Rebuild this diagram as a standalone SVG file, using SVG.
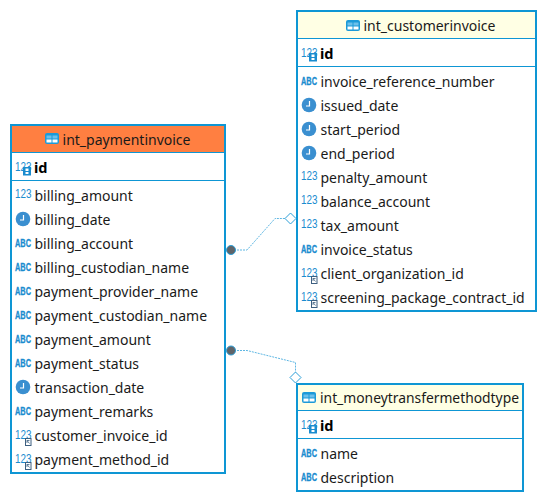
<svg xmlns="http://www.w3.org/2000/svg" width="555" height="502" viewBox="0 0 555 502">
<style>
.box{fill:#fff;stroke:#0e96d4;stroke-width:2}
.div{stroke:#0e96d4;stroke-width:1;fill:none}
text{font-family:"Noto Sans","Open Sans","Liberation Sans",sans-serif;fill:#1a1a1a}
.t{font-size:14px}
.h{font-size:14px;text-anchor:middle}
.pk{font-size:14.5px;font-weight:700;fill:#000}
.n{font-size:12px;fill:#1a8ccf;font-family:"Liberation Sans",sans-serif}
.a{font-size:10px;font-weight:700;fill:#1a8ccf;font-family:"Liberation Sans",sans-serif}
.rel{fill:none;stroke:#5fb7e3;stroke-width:1;stroke-dasharray:2 1}
.dia{fill:#fff;stroke:#2c9fd8;stroke-width:1}
.dot{fill:#5f6469;stroke:#2c9fd8;stroke-width:1}
</style>
<defs>
<g id="tbl"><rect x="0" y="0" width="14" height="11" rx="2" fill="#1c9ad8"/><rect x="1.500" y="2.500" width="5" height="3" fill="#6cc0ea"/><rect x="7.500" y="2.500" width="5" height="3" fill="#6cc0ea"/><rect x="1.500" y="6.500" width="5" height="3" fill="#fff"/><rect x="7.500" y="6.500" width="5" height="3" fill="#fff"/></g>
<g id="num"><text class="n" x="0" y="9" textLength="16.500" lengthAdjust="spacingAndGlyphs">123</text></g>
<g id="abc"><text class="a" x="0" y="8" textLength="16" lengthAdjust="spacingAndGlyphs" stroke="#1a8ccf" stroke-width="0.300">ABC</text></g>
<g id="clk"><circle cx="7" cy="7" r="7.300" fill="#3a8fd0"/><path d="M7.500 3V8H4" fill="none" stroke="#fff" stroke-width="1.200"/></g>
<g id="pk"><use href="#num"/><rect x="8" y="5" width="8" height="8.500" fill="#1a8ccf"/><rect x="10.500" y="6.500" width="3" height="2.500" fill="#fff"/><rect x="10.500" y="10" width="3" height="2" fill="#fff"/></g>
<g id="fk"><use href="#num"/><rect x="10.500" y="8.500" width="5.500" height="7" fill="#fff" stroke="#3d5f80"/><path d="M12 10.500L14.500 13.500M12 13V10.500H14.500" fill="none" stroke="#3d5f80" stroke-width="0.800"/></g>
</defs>

<g id="connectors">
<path class="rel" d="M231 250H247L275 218.500H285"/>
<path class="rel" d="M231 350.500H247L295.500 362.500V372"/>
</g>

<g id="int_paymentinvoice">
<rect class="box" x="11" y="125" width="214" height="348"/>
<rect x="12" y="126" width="212" height="26" fill="#ff7f41"/>
<path class="div" d="M12 152.500H224M12 180.500H224"/>
<use href="#tbl" x="45" y="133"/>
<text class="h" x="126.500" y="145">int_paymentinvoice</text>
<use href="#pk" x="15" y="162"/><text class="pk" x="34" y="173">id</text>
<use href="#num" x="15" y="189"/><text class="t" x="34.500" y="201">billing_amount</text>
<use href="#clk" x="16" y="212"/><text class="t" x="34.500" y="225">billing_date</text>
<use href="#abc" x="15" y="239"/><text class="t" x="34.500" y="249">billing_account</text>
<use href="#abc" x="15" y="263"/><text class="t" x="34.500" y="273">billing_custodian_name</text>
<use href="#abc" x="15" y="287"/><text class="t" x="34.500" y="297">payment_provider_name</text>
<use href="#abc" x="15" y="311"/><text class="t" x="34.500" y="321">payment_custodian_name</text>
<use href="#abc" x="15" y="335"/><text class="t" x="34.500" y="345">payment_amount</text>
<use href="#abc" x="15" y="359"/><text class="t" x="34.500" y="369">payment_status</text>
<use href="#clk" x="16" y="380"/><text class="t" x="34.500" y="393">transaction_date</text>
<use href="#abc" x="15" y="407"/><text class="t" x="34.500" y="417">payment_remarks</text>
<use href="#fk" x="15" y="430"/><text class="t" x="34.500" y="441">customer_invoice_id</text>
<use href="#fk" x="15" y="454"/><text class="t" x="34.500" y="465">payment_method_id</text>
<circle class="dot" cx="231" cy="250" r="4.500"/>
<circle class="dot" cx="231" cy="350.500" r="4.500"/>
</g>

<g id="int_customerinvoice">
<rect class="box" x="297" y="11" width="239" height="300"/>
<rect x="298" y="12" width="237" height="26" fill="#ffffe4"/>
<path class="div" d="M298 38.500H535M298 66.500H535"/>
<use href="#tbl" x="346" y="20"/>
<text class="h" x="429.500" y="31">int_customerinvoice</text>
<use href="#pk" x="301" y="48"/><text class="pk" x="320" y="59">id</text>
<use href="#abc" x="301" y="77"/><text class="t" x="320.500" y="87">invoice_reference_number</text>
<use href="#clk" x="302" y="98"/><text class="t" x="320.500" y="111">issued_date</text>
<use href="#clk" x="302" y="122"/><text class="t" x="320.500" y="135">start_period</text>
<use href="#clk" x="302" y="146"/><text class="t" x="320.500" y="159">end_period</text>
<use href="#num" x="301" y="171"/><text class="t" x="320.500" y="183">penalty_amount</text>
<use href="#num" x="301" y="195"/><text class="t" x="320.500" y="207">balance_account</text>
<use href="#num" x="301" y="219"/><text class="t" x="320.500" y="231">tax_amount</text>
<use href="#abc" x="301" y="245"/><text class="t" x="320.500" y="255">invoice_status</text>
<use href="#fk" x="301" y="268"/><text class="t" x="320.500" y="279">client_organization_id</text>
<use href="#fk" x="301" y="292"/><text class="t" x="320.500" y="303">screening_package_contract_id</text>
<path class="dia" d="M285 218.500L290.500 213L296 218.500L290.500 224Z"/>
</g>

<g id="int_moneytransfermethodtype">
<rect class="box" x="297" y="384" width="226" height="107"/>
<rect x="298" y="385" width="224" height="25" fill="#ffffe4"/>
<path class="div" d="M298 410.500H522M298 438.500H522"/>
<use href="#tbl" x="302" y="392"/>
<text class="h" x="419.500" y="403" textLength="199" lengthAdjust="spacingAndGlyphs">int_moneytransfermethodtype</text>
<use href="#pk" x="301" y="420"/><text class="pk" x="320" y="431">id</text>
<use href="#abc" x="301" y="449"/><text class="t" x="320.500" y="459">name</text>
<use href="#abc" x="301" y="473"/><text class="t" x="320.500" y="483">description</text>
<path class="dia" d="M295.500 372L301 377.500L295.500 383L290 377.500Z"/>
</g>
</svg>
